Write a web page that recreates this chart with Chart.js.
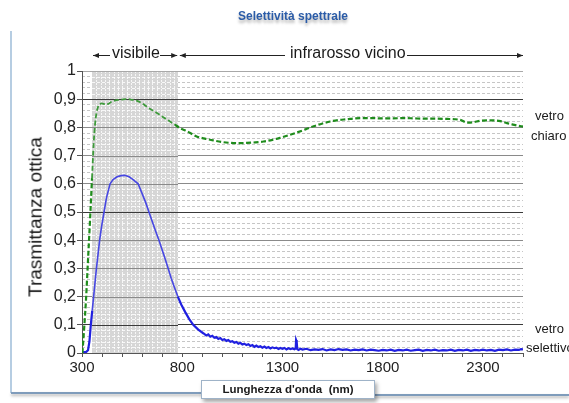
<!DOCTYPE html>
<html><head><meta charset="utf-8">
<script src="https://cdn.jsdelivr.net/npm/chart.js@4.4.1/dist/chart.umd.min.js"></script>
<style>
html,body{margin:0;padding:0;background:#fff;}
#wrap{position:relative;width:569px;height:403px;overflow:hidden;font-family:"Liberation Sans",Arial,Helvetica,sans-serif;}
#c{position:absolute;left:0;top:0;}
.t{position:absolute;white-space:nowrap;line-height:1;color:#1a1a1a;}
.ln{position:absolute;}
</style></head>
<body><div id="wrap">
<div class="ln" style="left:10px;top:31px;width:2px;height:362px;background:#b6cde2;"></div>
<div class="ln" style="left:11px;top:392px;width:192px;height:2px;background:#7f9cbb;box-shadow:0 2px 3px rgba(0,0,0,0.3);"></div>
<div class="ln" style="left:374px;top:394px;width:195px;height:2px;background:#7f9cbb;box-shadow:0 2px 3px rgba(0,0,0,0.3);"></div>
<canvas id="c" width="569" height="403"></canvas>
<div class="t" style="left:293px;top:9.5px;transform:translateX(-50%);font-size:12px;font-weight:bold;color:#2b5ca8;text-shadow:0 3px 3px rgba(0,0,0,0.3);">Selettività spettrale</div>
<div class="t" style="left:112px;top:44.5px;font-size:16px;">visibile</div>
<div class="t" style="left:290px;top:44.5px;font-size:16px;">infrarosso vicino</div>
<div class="t" style="left:34.5px;top:217px;transform:translate(-50%,-50%) rotate(-90deg);font-size:19px;">Trasmittanza ottica</div>
<div class="t" style="left:535px;top:109px;font-size:13px;">vetro</div>
<div class="t" style="left:531px;top:129px;font-size:13px;">chiaro</div>
<div class="t" style="left:535px;top:322px;font-size:13px;">vetro</div>
<div class="t" style="left:526px;top:341px;font-size:13px;">selettivo</div>
<div class="t" style="left:201px;top:380px;width:174px;height:19px;box-sizing:border-box;border:1px solid #9fb3c8;background:#fff;box-shadow:2px 3px 4px rgba(0,0,0,0.35);font-size:11.5px;font-weight:bold;line-height:17px;text-align:center;">Lunghezza d'onda&nbsp;&nbsp;(nm)</div>
</div>
<script>
// ---- data ----
const chiaroNm = [302,310,320,330,340,350,358,365,372,380,390,397,410,430,445,463,490,515,530,550,572,600,630,665,697,730,763,790,813,840,872,913,955,1000,1040,1080,1122,1165,1205,1250,1288,1330,1372,1415,1455,1500,1538,1580,1622,1660,1705,1750,1790,1850,1900,1955,2000,2060,2122,2160,2190,2222,2250,2290,2338,2388,2420,2450,2490,2500];
const chiaroT  = [0,0.08,0.19,0.33,0.47,0.62,0.74,0.81,0.85,0.873,0.882,0.885,0.883,0.883,0.89,0.895,0.898,0.9,0.9,0.898,0.895,0.885,0.87,0.855,0.84,0.825,0.81,0.797,0.79,0.78,0.768,0.76,0.754,0.748,0.745,0.744,0.745,0.747,0.75,0.756,0.763,0.772,0.782,0.793,0.804,0.814,0.821,0.826,0.829,0.832,0.833,0.833,0.832,0.832,0.833,0.832,0.831,0.831,0.83,0.829,0.826,0.817,0.818,0.824,0.825,0.822,0.815,0.81,0.804,0.803];

const selettivoNm = [300,320,330,337,344,351,358,365,372,380,388,398,410,422,440,455,475,495,513,535,555,580,600,617,634,650,667,684,700,715,730,745,760,778,795,815,835,855,880,905,
 910,920,930,940,950,960,970,980,990,1000,1010,1020,1030,1040,1050,1060,1070,1080,1090,1100,1110,1120,1130,1140,1150,1160,1170,1180,1190,1200,1210,1220,1230,1240,1250,1260,1270,1280,1290,1300,1310,1320,1330,1340,1350,1360,1366,1368,1371,1374,1380,1390,1400,
 1420,1440,1460,1480,1500,1520,1540,1560,1580,1600,1620,1640,1660,1680,1700,1720,1740,1760,1780,1800,1820,1840,1860,1880,1900,1920,1940,1960,1980,2000,2020,2040,2060,2080,2100,2120,2140,2160,2180,2200,2220,2240,2260,2280,2300,2320,2340,2360,2380,2400,2420,2440,2460,2480,2490,2500];
const selettivoT = [0.003,0.003,0.01,0.04,0.1,0.15,0.2,0.25,0.3,0.35,0.4,0.45,0.5,0.55,0.6,0.615,0.625,0.629,0.63,0.625,0.615,0.6,0.565,0.535,0.5,0.467,0.433,0.4,0.365,0.333,0.3,0.265,0.235,0.2,0.172,0.145,0.12,0.1,0.083,0.07,
 0.068,0.062,0.066,0.058,0.061,0.054,0.057,0.050,0.053,0.046,0.049,0.043,0.046,0.040,0.042,0.036,0.039,0.033,0.036,0.030,0.033,0.028,0.031,0.025,0.028,0.022,0.026,0.021,0.024,0.019,0.023,0.018,0.021,0.016,0.020,0.017,0.019,0.014,0.018,0.015,0.018,0.013,0.017,0.014,0.016,0.013,0.016,0.046,0.040,0.014,0.011,0.015,0.012,
 0.015,0.010,0.013,0.011,0.014,0.009,0.013,0.010,0.014,0.011,0.013,0.009,0.012,0.010,0.013,0.009,0.012,0.010,0.008,0.011,0.009,0.012,0.008,0.011,0.009,0.012,0.008,0.010,0.012,0.008,0.011,0.009,0.012,0.008,0.010,0.009,0.012,0.008,0.011,0.009,0.012,0.008,0.011,0.009,0.012,0.009,0.011,0.008,0.012,0.010,0.013,0.009,0.012,0.011,0.014,0.013];

const xTickLabels = [300, 800, 1300, 1800, 2300];
const yTickLabels = ['0','0,1','0,2','0,3','0,4','0,5','0,6','0,7','0,8','0,9','1'];
const visibleRange = [350, 780];
const infraredRange = [788, 2500];

// ---- styling ----
const FONT = '"Liberation Sans", Arial, Helvetica, sans-serif';
const darkMajor = [1, 5, 9];
const majorColor = k => k === 10 ? '#a8a8a8' : (k === 0 ? 'rgba(0,0,0,0)' : (darkMajor.includes(k) ? '#3a3a3a' : '#8a8a8a'));
const inVisible = c => c.p0.parsed.x >= visibleRange[0] && c.p1.parsed.x <= visibleRange[1];

const shadePlugin = {
  id: 'shade',
  beforeDatasetsDraw(chart) {
    const {ctx, chartArea: ca, scales: {x, y}} = chart;
    const x0 = Math.round(x.getPixelForValue(visibleRange[0]));
    const x1 = Math.round(x.getPixelForValue(visibleRange[1]));
    ctx.save();
    ctx.fillStyle = '#d6d6d6';
    ctx.fillRect(x0, ca.top, x1 - x0, ca.bottom - ca.top);
    ctx.strokeStyle = 'rgba(255,255,255,0.8)';
    ctx.lineWidth = 1;
    ctx.setLineDash([2, 1]);
    for (let v = visibleRange[0] + 21.5; v < visibleRange[1] - 5; v += 21.5) {
      const px = Math.round(x.getPixelForValue(v)) + 0.5;
      ctx.beginPath(); ctx.moveTo(px, ca.top); ctx.lineTo(px, ca.bottom); ctx.stroke();
    }
    ctx.setLineDash([3, 2]);
    for (let k = 1; k < 50; k++) {
      if (k % 5 === 0) continue;
      const py = Math.round(y.getPixelForValue(k / 50)) + 0.5;
      ctx.beginPath(); ctx.moveTo(x0, py); ctx.lineTo(x1, py); ctx.stroke();
    }
    ctx.setLineDash([]);
    for (let k = 1; k <= 10; k++) {
      const py = Math.round(y.getPixelForValue(k / 10)) + 0.5;
      ctx.strokeStyle = majorColor(k);
      ctx.beginPath(); ctx.moveTo(x0, py); ctx.lineTo(x1, py); ctx.stroke();
    }
    ctx.restore();
  },
  afterDraw(chart) {
    const {ctx, scales: {x}} = chart;
    const yy = 55.5;
    const seg = (a, b) => { ctx.beginPath(); ctx.moveTo(a, yy); ctx.lineTo(b, yy); ctx.stroke(); };
    const head = (px, dir) => {
      ctx.beginPath(); ctx.moveTo(px, yy); ctx.lineTo(px - dir * 6, yy - 2.5); ctx.lineTo(px - dir * 6, yy + 2.5); ctx.closePath(); ctx.fill();
    };
    ctx.save();
    ctx.strokeStyle = '#222'; ctx.fillStyle = '#222'; ctx.lineWidth = 1;
    const a0 = x.getPixelForValue(visibleRange[0] + 5), a1 = x.getPixelForValue(visibleRange[1] - 5);
    seg(a0, 110); seg(160, a1); head(a0, -1); head(a1, 1);
    const b0 = x.getPixelForValue(infraredRange[0]), b1 = x.getPixelForValue(infraredRange[1]);
    seg(b0, 285); seg(407, b1); head(b0, -1); head(b1, 1);
    ctx.restore();
  }
};

new Chart(document.getElementById('c'), {
  type: 'line',
  data: {
    datasets: [
      {
        label: 'vetro selettivo',
        data: selettivoNm.map((v, i) => ({x: v, y: selettivoT[i]})),
        borderColor: '#2020e0', borderWidth: 2.2, pointRadius: 0, tension: 0, fill: false, order: 2,
        segment: {
          borderColor: c => inVisible(c) ? '#4747e2' : undefined,
          borderWidth: c => inVisible(c) ? 1.6 : undefined
        }
      },
      {
        label: 'vetro chiaro',
        data: chiaroNm.map((v, i) => ({x: v, y: chiaroT[i]})),
        borderColor: '#1f8c1c', borderWidth: 2.2, borderDash: [5, 2.5], pointRadius: 0,
        cubicInterpolationMode: 'monotone', fill: false, order: 1,
        segment: {
          borderColor: c => inVisible(c) ? '#3e9a3b' : undefined,
          borderWidth: c => inVisible(c) ? 1.8 : undefined
        }
      }
    ]
  },
  options: {
    responsive: false, animation: false, devicePixelRatio: 1,
    layout: {padding: {left: 0, top: 71, right: 46, bottom: 0}},
    plugins: {legend: {display: false}, tooltip: {enabled: false}},
    scales: {
      yMinor: {
        type: 'linear', position: 'left', min: 0, max: 1,
        afterFit(s) { s.width = 0; },
        ticks: {display: false, stepSize: 0.02},
        grid: {
          lineWidth: 1, drawTicks: false, tickLength: 0,
          color: c => (Math.round(c.tick.value * 50) % 5 === 0) ? 'rgba(0,0,0,0)' : '#c6c6c6'
        },
        border: {display: false, dash: [3, 2]}
      },
      x: {
        type: 'linear', min: 300, max: 2500,
        afterFit(s) { s.height = 50; },
        ticks: {
          stepSize: 100, autoSkip: false, maxRotation: 0, padding: 2, color: '#222',
          font: {size: 15, family: FONT},
          callback: v => xTickLabels.includes(v) ? String(v) : ''
        },
        grid: {drawOnChartArea: false, drawTicks: true, tickLength: 4, tickColor: '#555'},
        border: {color: '#555', width: 1}
      },
      y: {
        type: 'linear', position: 'left', min: 0, max: 1,
        afterFit(s) { s.width = 82; },
        ticks: {
          stepSize: 0.1, padding: 1, color: '#222', font: {size: 16, family: FONT},
          callback: v => yTickLabels[Math.round(v * 10)]
        },
        grid: {
          lineWidth: 1, tickLength: 5, tickColor: '#555',
          color: c => majorColor(Math.round(c.tick.value * 10))
        },
        border: {color: '#555', width: 1}
      }
    }
  },
  plugins: [shadePlugin]
});
</script>
</body></html>
